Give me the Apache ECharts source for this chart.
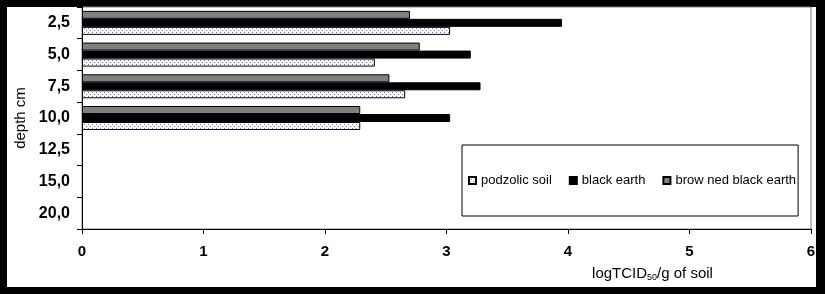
<!DOCTYPE html>
<html>
<head>
<meta charset="utf-8">
<script src="https://cdn.jsdelivr.net/npm/echarts@6/dist/echarts.min.js"></script>
<style>html,body{margin:0;padding:0;background:#000;}#c{width:825px;height:294px;}</style>
</head>
<body>
<div id="c"></div>
<script>
var depths = ['2,5', '5,0', '7,5', '10,0', '12,5', '15,0', '20,0'];
var podzolic = [3.03, 2.41, 2.66, 2.29, null, null, null];
var blackEarth = [3.95, 3.20, 3.28, 3.03, null, null, null];
var brownedBlackEarth = [2.70, 2.78, 2.53, 2.29, null, null, null];
var seriesNames = ['podzolic soil', 'black earth', 'brow ned black earth'];
var xTicks = [0, 1, 2, 3, 4, 5, 6];

var tile = document.createElement('canvas');
tile.width = 4; tile.height = 4;
var tc = tile.getContext('2d');
tc.fillStyle = '#ffffff'; tc.fillRect(0, 0, 4, 4);
tc.fillStyle = '#6a6aff';
tc.fillRect(0, 0, 1, 1); tc.fillRect(2, 2, 1, 1);

var chart = echarts.init(document.getElementById('c'), null, {renderer: 'canvas'});
var font = 'Liberation Sans, Arial, sans-serif';
chart.setOption({
  backgroundColor: '#000000',
  animation: false,
  graphic: [{type: 'rect', z: -100, silent: true, shape: {x: 7, y: 7, width: 809, height: 280}, style: {fill: '#ffffff'}}],
  grid: {left: 82, top: 7, right: 14, bottom: 65, show: true, borderColor: '#808080', borderWidth: 1, backgroundColor: '#ffffff'},
  legend: {
    data: seriesNames,
    left: 462, top: 145,
    orient: 'horizontal',
    icon: 'rect', itemWidth: 7, itemHeight: 7, itemGap: 17,
    backgroundColor: '#ffffff', borderColor: '#000000', borderWidth: 1,
    padding: [29, 2, 29, 6],
    textStyle: {fontFamily: font, fontSize: 13, color: '#000000', padding: [0, 0, 0, 0]}
  },
  xAxis: {
    type: 'value', min: xTicks[0], max: xTicks[xTicks.length - 1], interval: 1,
    axisLine: {show: true, lineStyle: {color: '#000', width: 1}},
    axisTick: {show: true, length: 5, lineStyle: {color: '#000'}},
    splitLine: {show: false},
    axisLabel: {fontFamily: font, fontSize: 15, fontWeight: 'bold', color: '#000', margin: 15},
    name: 'logTCID{sub|50}/g of soil',
    nameLocation: 'middle', nameGap: 37,
    nameTextStyle: {fontFamily: font, fontSize: 15, color: '#000', padding: [0, 0, 0, 412],
      rich: {sub: {fontFamily: font, fontSize: 9, color: '#000', padding: [7, 0, 0, 0]}}}
  },
  yAxis: {
    type: 'category', data: depths, inverse: true,
    axisLine: {show: true, lineStyle: {color: '#000', width: 1}},
    axisTick: {show: true, length: 5, interval: 0, lineStyle: {color: '#000'}},
    axisLabel: {fontFamily: font, fontSize: 16, fontWeight: 'bold', color: '#000', margin: 12},
    name: 'depth cm', nameLocation: 'middle', nameGap: 54,
    nameTextStyle: {fontFamily: font, fontSize: 15, color: '#000'}
  },
  series: [
    {name: seriesNames[2], type: 'bar', data: brownedBlackEarth, barWidth: 8, barGap: '0%',
      itemStyle: {color: '#808080', borderColor: '#000', borderWidth: 1}},
    {name: seriesNames[1], type: 'bar', data: blackEarth, barWidth: 8, barGap: '0%',
      itemStyle: {color: '#000000', borderColor: '#000', borderWidth: 1}},
    {name: seriesNames[0], type: 'bar', data: podzolic, barWidth: 8, barGap: '0%',
      itemStyle: {color: {image: tile, repeat: 'repeat'}, borderColor: '#000', borderWidth: 1}}
  ]
});
</script>
</body>
</html>
